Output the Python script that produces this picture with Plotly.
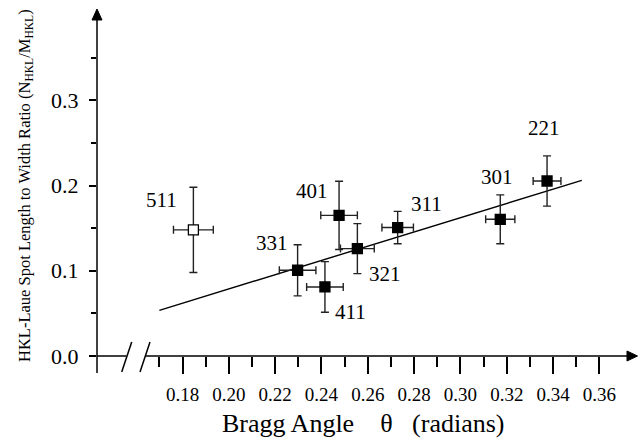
import plotly.graph_objects as go

# ---- data ----
labels = ["511", "331", "411", "401", "321", "311", "301", "221"]
theta = [0.1847, 0.2297, 0.2415, 0.2476, 0.2555, 0.2729, 0.3172, 0.3374]
ratio = [0.148, 0.1006, 0.081, 0.165, 0.126, 0.1507, 0.1604, 0.2053]
theta_err = [0.0086, 0.0079, 0.0079, 0.0079, 0.0073, 0.0068, 0.0063, 0.0060]
ratio_err = [0.050, 0.030, 0.0297, 0.040, 0.0293, 0.019, 0.0287, 0.0295]
is_open = [True, False, False, False, False, False, False, False]

fit_x = [0.170, 0.3524]
fit_y = [0.0536, 0.2061]

x_major = [0.18, 0.20, 0.22, 0.24, 0.26, 0.28, 0.30, 0.32, 0.34, 0.36]
x_minor = [0.17, 0.19, 0.21, 0.23, 0.25, 0.27, 0.29, 0.31, 0.33, 0.35]
y_major = [0.0, 0.1, 0.2, 0.3]
y_minor = [0.05, 0.15, 0.25, 0.35]
y_ticktext = ["0.0", "0.1", "0.2", "0.3"]

# label offsets in pixels (style, not data)
label_dx = [-32, -26, 26, -27, 28, 29, -3, -3]
label_dy = [30, 27, -25, 24, -25, 24, 42, 53]

FONT = "Liberation Serif"
W, H = 638, 440
ML, MR, MT, MB = 97, 0, 9, 84
PW, PH = W - ML - MR, H - MT - MB

def px2paper_x(px):
    return (px - ML) / PW

def px2paper_y(py):
    return (H - MB - py) / PH

fig = go.Figure()

fig.add_trace(go.Scatter(x=fit_x, y=fit_y, mode="lines",
                         line=dict(color="black", width=1.4), showlegend=False))

def pts(flag):
    idx = [i for i in range(len(theta)) if is_open[i] == flag]
    return ([theta[i] for i in idx], [ratio[i] for i in idx],
            [theta_err[i] for i in idx], [ratio_err[i] for i in idx])

for flag, fill in [(False, "black"), (True, "white")]:
    xs, ys, xe, ye = pts(flag)
    fig.add_trace(go.Scatter(
        x=xs, y=ys, mode="markers",
        marker=dict(symbol="square", size=10, color=fill,
                    line=dict(color="black", width=1.3)),
        error_x=dict(type="data", array=xe, symmetric=True, color="#222",
                     thickness=1.4, width=4),
        error_y=dict(type="data", array=ye, symmetric=True, color="#222",
                     thickness=1.4, width=4),
        showlegend=False))

annotations = []
for i, lab in enumerate(labels):
    annotations.append(dict(x=theta[i], y=ratio[i], xref="x", yref="y",
                            text=lab, showarrow=False,
                            xshift=label_dx[i], yshift=label_dy[i],
                            font=dict(family=FONT, size=21, color="black")))

# y tick labels
for v, t in zip(y_major, y_ticktext):
    annotations.append(dict(x=px2paper_x(81), y=v, xref="paper", yref="y",
                            text=t, showarrow=False, xanchor="right",
                            yanchor="middle",
                            font=dict(family=FONT, size=22, color="black")))

NB = "\u00a0"
annotations.append(dict(
    x=px2paper_x(363), y=px2paper_y(424), xref="paper", yref="paper",
    text="Bragg Angle" + NB * 4 + "θ" + NB * 3 + "(radians)", showarrow=False,
    xanchor="center", yanchor="middle",
    font=dict(family=FONT, size=26, color="black")))

annotations.append(dict(
    x=px2paper_x(25), y=px2paper_y(186), xref="paper", yref="paper",
    text="HKL-Laue Spot Length to Width Ratio (N<sub>HKL</sub>/M<sub>HKL</sub>)",
    showarrow=False, textangle=-90, xanchor="center", yanchor="middle",
    font=dict(family=FONT, size=16.5, color="black")))

LW = 1.5
shapes = []
y0p = px2paper_y(356)
# x axis with a break
shapes.append(dict(type="line", xref="paper", yref="paper",
                   x0=0, x1=px2paper_x(126.5), y0=y0p, y1=y0p,
                   line=dict(color="black", width=LW)))
shapes.append(dict(type="line", xref="paper", yref="paper",
                   x0=px2paper_x(145), x1=px2paper_x(628), y0=y0p, y1=y0p,
                   line=dict(color="black", width=LW)))
# break marks
for xa, xb in [(121.7, 131.7), (140, 150)]:
    shapes.append(dict(type="line", xref="paper", yref="paper",
                       x0=px2paper_x(xa), y0=px2paper_y(372),
                       x1=px2paper_x(xb), y1=px2paper_y(342),
                       line=dict(color="black", width=LW)))
# x arrow head
shapes.append(dict(type="path", xref="paper", yref="paper",
                   path="M %f %f L %f %f L %f %f Z" % (
                       px2paper_x(637.5), px2paper_y(356),
                       px2paper_x(627), px2paper_y(351),
                       px2paper_x(627), px2paper_y(361)),
                   fillcolor="black", line=dict(color="black", width=1)))
# y axis line (extends below zero)
shapes.append(dict(type="line", xref="paper", yref="paper",
                   x0=0, x1=0, y0=px2paper_y(373), y1=px2paper_y(20),
                   line=dict(color="black", width=LW)))
# y arrow head
shapes.append(dict(type="path", xref="paper", yref="paper",
                   path="M %f %f L %f %f L %f %f Z" % (
                       px2paper_x(97), px2paper_y(9),
                       px2paper_x(92), px2paper_y(20),
                       px2paper_x(102), px2paper_y(20)),
                   fillcolor="black", line=dict(color="black", width=1)))

fig.update_layout(
    width=W, height=H,
    margin=dict(l=ML, r=MR, t=MT, b=MB, pad=0),
    paper_bgcolor="white", plot_bgcolor="white",
    font=dict(family=FONT, color="black"),
    annotations=annotations, shapes=shapes,
    xaxis=dict(range=[0.14308, 0.37667], showgrid=False, zeroline=False,
               showline=False, ticks="outside", ticklen=17, tickwidth=LW,
               tickcolor="black", tickmode="array", tickvals=x_major,
               ticktext=["%.2f" % v for v in x_major], ticklabelstandoff=4,
               tickfont=dict(family=FONT, size=19, color="black"),
               minor=dict(tickmode="array", tickvals=x_minor, ticks="outside",
                          ticklen=10, tickwidth=LW, tickcolor="black",
                          showgrid=False)),
    yaxis=dict(range=[0, PH / 852.3], showgrid=False, zeroline=False,
               showline=False, ticks="outside", ticklen=7, tickwidth=LW,
               tickcolor="black", tickmode="array", tickvals=y_major,
               showticklabels=False,
               minor=dict(tickmode="array", tickvals=y_minor, ticks="outside",
                          ticklen=5, tickwidth=LW, tickcolor="black",
                          showgrid=False)),
)

fig.write_html("out.html",
               config={"displayModeBar": False},
               post_script="document.body.style.margin='0px';"
                           "document.body.style.overflow='hidden';")
